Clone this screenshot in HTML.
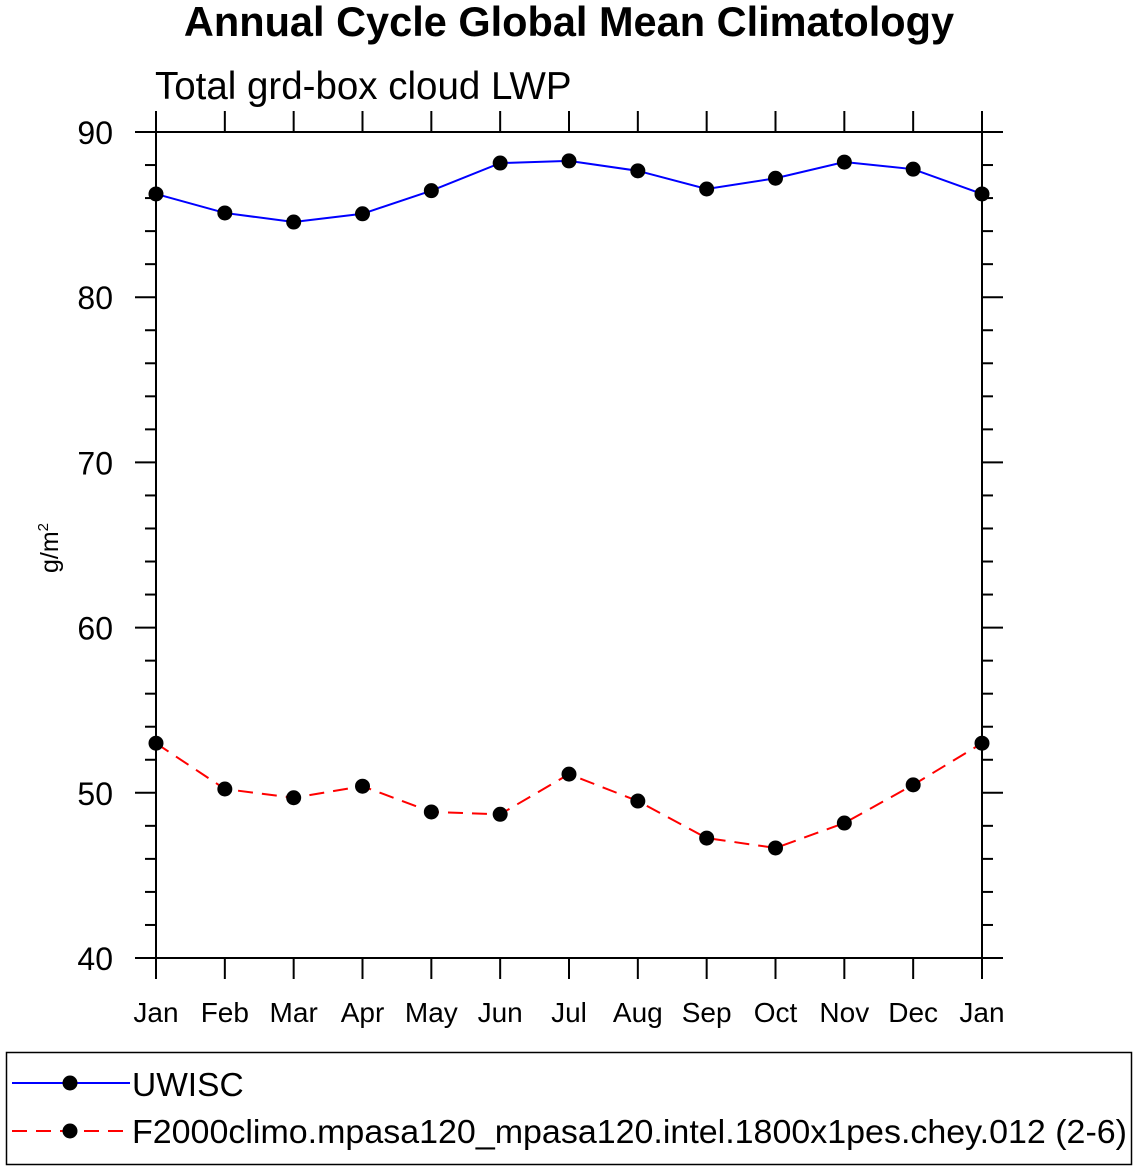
<!DOCTYPE html>
<html><head><meta charset="utf-8"><style>
body{margin:0;background:#fff;}
svg text{font-family:"Liberation Sans",Helvetica,sans-serif;}
</style></head><body>
<svg id="chart" width="1138" height="1170" xmlns="http://www.w3.org/2000/svg">
<text x="569" y="36" text-anchor="middle" font-size="41.5" font-weight="bold">Annual Cycle Global Mean Climatology</text>
<text x="155" y="99" font-size="38.5">Total grd-box cloud LWP</text>
<text transform="translate(58,548) rotate(-90)" text-anchor="middle" font-size="25">g/m<tspan dy="-10" font-size="15">2</tspan></text>
<g id="axes"></g>
<g id="series"></g>
<rect x="6.5" y="1052.5" width="1125" height="112" fill="none" stroke="#000" stroke-width="1.5"/>
<g>
<line x1="12" y1="1083" x2="130" y2="1083" stroke="#0000ff" stroke-width="2"/>
<circle cx="70" cy="1083" r="7.5" fill="#000"/>
<text x="132" y="1096" font-size="33.5">UWISC</text></g>
<g>
<line x1="12" y1="1131" x2="130" y2="1131" stroke="#ff0000" stroke-width="2" stroke-dasharray="15,9"/>
<circle cx="70" cy="1131" r="7.5" fill="#000"/>
<text x="132" y="1143" font-size="33.5" textLength="995" lengthAdjust="spacingAndGlyphs">F2000climo.mpasa120_mpasa120.intel.1800x1pes.chey.012 (2-6)</text></g>
</svg>
<script>
const months=["Jan","Feb","Mar","Apr","May","Jun","Jul","Aug","Sep","Oct","Nov","Dec","Jan"];
const uwisc=[86.25,85.1,84.55,85.05,86.45,88.12,88.25,87.65,86.55,87.2,88.18,87.75,86.25];
const model=[53.0,50.23,49.7,50.4,48.84,48.7,51.13,49.5,47.26,46.66,48.17,50.48,53.0];
const yTicks=[40,50,60,70,80,90];
const X0=156,X1=982,Y0=958,Y1=132,YMIN=40,YMAX=90;
const xs=i=>X0+(X1-X0)*i/(months.length-1);
const ys=v=>Y0-(v-YMIN)/(YMAX-YMIN)*(Y0-Y1);
const NS="http://www.w3.org/2000/svg";
function mk(t,a,p){const e=document.createElementNS(NS,t);for(const k in a)e.setAttribute(k,a[k]);p.appendChild(e);return e;}
const ax=document.getElementById('axes'),sg=document.getElementById('series');
const fr=mk('rect',{x:X0,y:Y1,width:X1-X0,height:Y0-Y1,fill:'none',stroke:'#000','stroke-width':2},ax);


for(let v=YMIN;v<=YMAX;v+=2){const y=ys(v);const maj=(v%10===0);const L=maj?21:11;
 mk('line',{x1:X0-L,y1:y,x2:X0,y2:y,stroke:'#000','stroke-width':2},ax);
 mk('line',{x1:X1,y1:y,x2:X1+L,y2:y,stroke:'#000','stroke-width':2},ax);}
yTicks.forEach(v=>{const t=mk('text',{x:113,y:ys(v)+12,'text-anchor':'end','font-size':32},ax);t.textContent=v;

});
months.forEach((m,i)=>{const x=xs(i);
 mk('line',{x1:x,y1:Y0,x2:x,y2:Y0+21,stroke:'#000','stroke-width':2},ax);
 mk('line',{x1:x,y1:Y1-21,x2:x,y2:Y1,stroke:'#000','stroke-width':2},ax);
 const t=mk('text',{x:x,y:1022,'text-anchor':'middle','font-size':28},ax);t.textContent=m;
 
 });
function series(d,col,dash,name){
 const p=mk('polyline',{points:d.map((v,i)=>xs(i)+','+ys(v)).join(' '),fill:'none',stroke:col,'stroke-width':2,'stroke-dasharray':dash},sg);
 
 
 d.forEach((v,i)=>{const c=mk('circle',{cx:xs(i),cy:ys(v),r:7.5,fill:'#000'},sg);
 
 });}
series(uwisc,'#0000ff','none','uwisc');
series(model,'#ff0000','15,9','model');
</script>
</body></html>
